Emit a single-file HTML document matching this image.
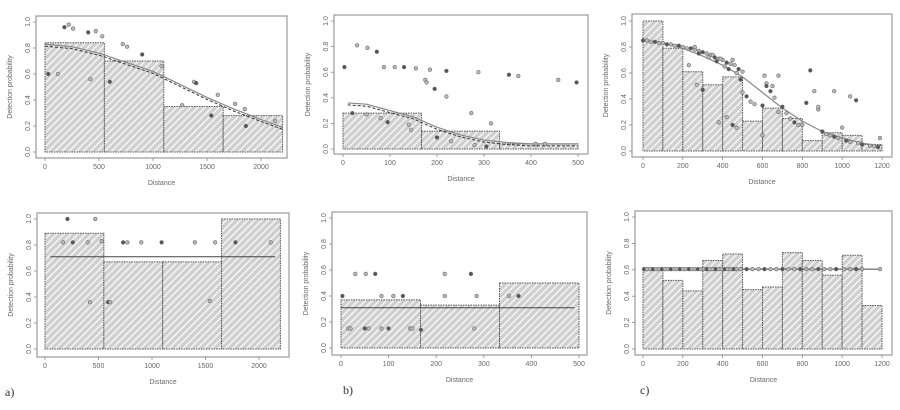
<!DOCTYPE html>
<html><head><meta charset="utf-8">
<style>
html,body{margin:0;padding:0;background:#fff;}
svg{display:block;font-family:"Liberation Sans",sans-serif;}
.tk{font-size:7px;fill:#666;}
.lab{font-size:7px;fill:#666;}
.pl{font-family:"Liberation Serif",serif;font-size:12px;fill:#333;}
</style></head>
<body>
<svg id="fig" width="900" height="410" viewBox="0 0 900 410">
<defs>
<pattern id="hatch" width="5" height="5" patternUnits="userSpaceOnUse" patternTransform="rotate(45)">
<rect width="5" height="5" fill="#cfcfcf"/>
<rect x="0" y="0" width="1.6" height="5" fill="#f4f4f4"/>
</pattern>
</defs>
<text class="pl" x="5" y="396">a)</text>
<text class="pl" x="343" y="394">b)</text>
<text class="pl" x="640" y="394">c)</text>
</svg>
<script>
// ---- Panel a (top) data ----
const aTopEdges=[0,550,1100,1650,2200];
const aTopHeights=[0.84,0.70,0.35,0.28];
const aTopCurveX=[0,250,500,750,1000,1250,1500,1750,2000,2200];
const aTopCurveY=[0.83,0.81,0.76,0.69,0.62,0.52,0.42,0.33,0.25,0.19];
const aTopPtsX=[180,220,260,400,470,530,30,120,420,600,720,760,900,1080,1380,1400,1600,1270,1540,1760,1850,1860,2130];
const aTopPtsY=[0.96,0.98,0.95,0.92,0.93,0.89,0.60,0.60,0.56,0.54,0.83,0.81,0.75,0.66,0.54,0.53,0.44,0.36,0.28,0.37,0.33,0.20,0.24];
const aTopXTicks=[0,500,1000,1500,2000];
// ---- Panel b (top) ----
const bTopEdges=[0,167,333,500];
const bTopHeights=[0.28,0.14,0.04];
const bTopCurveX=[10,50,100,150,200,250,300,350,400,500];
const bTopCurveY=[0.36,0.35,0.30,0.25,0.17,0.11,0.07,0.05,0.04,0.04];
const bTopPtsX=[3,30,52,72,87,110,130,155,185,220,175,178,195,220,288,353,373,458,497,273,315,20,50,80,95,140,145,200,230,280,305,410,430];
const bTopPtsY=[0.64,0.81,0.79,0.76,0.64,0.64,0.64,0.63,0.62,0.61,0.54,0.52,0.47,0.41,0.60,0.58,0.57,0.54,0.52,0.28,0.20,0.28,0.27,0.24,0.21,0.19,0.15,0.09,0.06,0.03,0.02,0.04,0.04];
const bTopXTicks=[0,100,200,300,400,500];
// ---- Panel c (top) ----
const cTopEdges=[0,100,200,300,400,500,600,700,800,900,1000,1100,1200];
const cTopHeights=[1.0,0.79,0.61,0.51,0.57,0.23,0.33,0.25,0.08,0.14,0.12,0.05];
const cTopCurveX=[0,100,200,300,400,500,600,700,800,900,1000,1100,1200];
const cTopCurveY=[0.85,0.83,0.79,0.73,0.66,0.57,0.45,0.33,0.23,0.15,0.10,0.06,0.04];
const cTopPtsX=[0,20,40,60,80,100,120,140,160,180,200,220,240,260,280,300,320,340,360,380,400,420,440,460,480,500,260,280,330,350,370,390,410,430,450,470,490,230,270,300,380,420,450,470,500,520,540,560,600,610,620,640,660,680,700,720,740,760,780,800,820,860,880,900,920,940,960,980,1000,1020,1040,1080,1100,1140,1160,1180,1190,600,620,650,680,840,960,1040,1070,880];
const cTopPtsY=[0.85,0.85,0.84,0.84,0.83,0.83,0.82,0.82,0.81,0.81,0.80,0.79,0.79,0.78,0.77,0.76,0.75,0.74,0.72,0.71,0.70,0.68,0.67,0.66,0.63,0.61,0.80,0.75,0.72,0.74,0.69,0.71,0.65,0.63,0.70,0.60,0.55,0.66,0.51,0.47,0.22,0.26,0.20,0.18,0.45,0.42,0.38,0.36,0.35,0.58,0.52,0.46,0.41,0.30,0.34,0.29,0.25,0.22,0.20,0.20,0.37,0.46,0.32,0.15,0.13,0.12,0.11,0.10,0.18,0.08,0.07,0.06,0.05,0.04,0.04,0.03,0.10,0.12,0.50,0.50,0.58,0.62,0.46,0.42,0.39,0.34];
const cTopXTicks=[0,200,400,600,800,1000,1200];
// ---- Panel a (bottom) ----
const aBotEdges=[0,550,1100,1650,2200];
const aBotHeights=[0.89,0.67,0.67,1.0];
const aBotCurveX=[50,2150];
const aBotCurveY=[0.71,0.71];
const aBotPtsX=[210,470,170,260,400,530,730,770,900,1090,1400,1590,1780,2110,420,590,610,1540];
const aBotPtsY=[1.0,1.0,0.82,0.82,0.82,0.83,0.82,0.82,0.82,0.82,0.82,0.82,0.82,0.82,0.36,0.36,0.36,0.37];
// ---- Panel b (bottom) ----
const bBotEdges=[0,167,333,500];
const bBotHeights=[0.37,0.33,0.50];
const bBotCurveX=[0,490];
const bBotCurveY=[0.31,0.31];
const bBotPtsX=[3,30,52,72,85,110,130,218,218,273,285,353,373,15,20,50,58,85,100,145,150,168,280];
const bBotPtsY=[0.40,0.57,0.57,0.57,0.40,0.40,0.40,0.57,0.40,0.57,0.40,0.40,0.40,0.15,0.15,0.15,0.15,0.15,0.15,0.15,0.15,0.14,0.15];
// ---- Panel c (bottom) ----
const cBotEdges=[0,100,200,300,400,500,600,700,800,900,1000,1100,1200];
const cBotHeights=[0.60,0.52,0.44,0.67,0.72,0.45,0.47,0.73,0.67,0.56,0.71,0.33];
const cBotCurveX=[0,1200];
const cBotCurveY=[0.605,0.605];
const cBotPtsX=[5,20,35,50,65,80,95,110,125,140,155,170,185,200,215,230,245,260,275,290,305,320,335,350,365,380,395,410,425,440,455,470,490,520,550,580,610,640,670,700,730,760,790,820,850,880,910,940,970,1010,1040,1070,1100,1190];
const cBotPtsY=cBotPtsX.map(()=>0.605);
const yTicks=[0,0.2,0.4,0.6,0.8,1.0];
const yTickLabels=["0.0","0.2","0.4","0.6","0.8","1.0"];

const NS="http://www.w3.org/2000/svg";
const svg=document.getElementById('fig');
function mk(tag,attrs,parent){const e=document.createElementNS(NS,tag);for(const k in attrs)e.setAttribute(k,attrs[k]);(parent||svg).appendChild(e);return e;}

function panel(id,g,edges,heights,cx,cy,px,py,xticks,dashedCurve,solidFlat){
  const grp=mk('g',{});
  
  
  const X=v=>g.x0+(v-0)*(g.x1-g.x0)/g.xmax;
  const Y=v=>g.y0+v*(g.y1-g.y0);
  // frame
  const fr=mk('rect',{x:g.bl,y:g.bt,width:g.br-g.bl,height:g.bb-g.bt,fill:'none',stroke:'#999','stroke-width':1.2},grp);
  
  
  // bars
  for(let i=0;i<heights.length;i++){
    const r=mk('rect',{x:X(edges[i]),y:Y(heights[i]),width:X(edges[i+1])-X(edges[i]),height:Y(0)-Y(heights[i]),fill:'url(#hatch)',stroke:'#555','stroke-width':1,'stroke-dasharray':'1.5,1'},grp);
    
    
  }
  // curve
  const pts=cx.map((v,i)=>X(v)+','+Y(cy[i])).join(' ');
  const l=mk('polyline',{points:pts,fill:'none',stroke:solidFlat?'#444':'#888','stroke-width':solidFlat?1:1.2},grp);
  
  
  if(dashedCurve){
    const l2=mk('polyline',{points:cx.map((v,i)=>X(v)+','+(Y(cy[i])+2)).join(' '),fill:'none',stroke:'#333','stroke-width':1,'stroke-dasharray':'3,2'},grp);
    
    
  }
  // points
  for(let i=0;i<px.length;i++){
    const c=mk('circle',{cx:X(px[i]),cy:Y(py[i]),r:1.8,fill:i%3==0?'#555':'#bbb',stroke:'#666','stroke-width':0.6},grp);
    
    
  }
  // x ticks
  xticks.forEach(t=>{
    mk('line',{x1:X(t),x2:X(t),y1:g.bb,y2:g.bb+3,stroke:'#888','stroke-width':0.8},grp);
    const tx=mk('text',{x:X(t),y:g.bb+11,'text-anchor':'middle',class:'tk'},grp);
    tx.textContent=t;
    
    
  });
  yTicks.forEach((t,i)=>{
    mk('line',{x1:g.bl-3,x2:g.bl,y1:Y(t),y2:Y(t),stroke:'#888','stroke-width':0.8},grp);
    const tx=mk('text',{x:0,y:0,'text-anchor':'middle',class:'tk',transform:`translate(${g.bl-6},${Y(t)}) rotate(-90)`},grp);
    tx.textContent=yTickLabels[i];
    
    
  });
  const xl=mk('text',{x:(g.bl+g.br)/2,y:g.bb+27,'text-anchor':'middle',class:'lab'},grp);
  xl.textContent='Distance';
  
  
  const yl=mk('text',{x:0,y:0,'text-anchor':'middle',class:'lab',transform:`translate(${g.bl-24},${(g.bt+g.bb)/2}) rotate(-90)`},grp);
  yl.textContent='Detection probability';
  
  
}
panel('a-top',{bl:36,br:287,bt:16,bb:158,y0:152,y1:22,x0:45,x1:261,xmax:2000},aTopEdges,aTopHeights,aTopCurveX,aTopCurveY,aTopPtsX,aTopPtsY,aTopXTicks,true,false);
panel('b-top',{bl:334,br:588,bt:15,bb:154,y0:149,y1:21,x0:343,x1:578,xmax:500},bTopEdges,bTopHeights,bTopCurveX,bTopCurveY,bTopPtsX,bTopPtsY,bTopXTicks,true,false);
panel('c-top',{bl:632,br:892,bt:14,bb:157,y0:151,y1:21,x0:643,x1:882,xmax:1200},cTopEdges,cTopHeights,cTopCurveX,cTopCurveY,cTopPtsX,cTopPtsY,cTopXTicks,false,false);
panel('a-bottom',{bl:37,br:289,bt:213,bb:357,y0:349,y1:219,x0:45,x1:259,xmax:2000},aBotEdges,aBotHeights,aBotCurveX,aBotCurveY,aBotPtsX,aBotPtsY,aTopXTicks,false,true);
panel('b-bottom',{bl:332,br:587,bt:212,bb:355,y0:348,y1:218,x0:341,x1:579,xmax:500},bBotEdges,bBotHeights,bBotCurveX,bBotCurveY,bBotPtsX,bBotPtsY,bTopXTicks,false,true);
panel('c-bottom',{bl:635,br:892,bt:211,bb:355,y0:349,y1:217,x0:643,x1:882,xmax:1200},cBotEdges,cBotHeights,cBotCurveX,cBotCurveY,cBotPtsX,cBotPtsY,cTopXTicks,false,true);
</script>
</body></html>
